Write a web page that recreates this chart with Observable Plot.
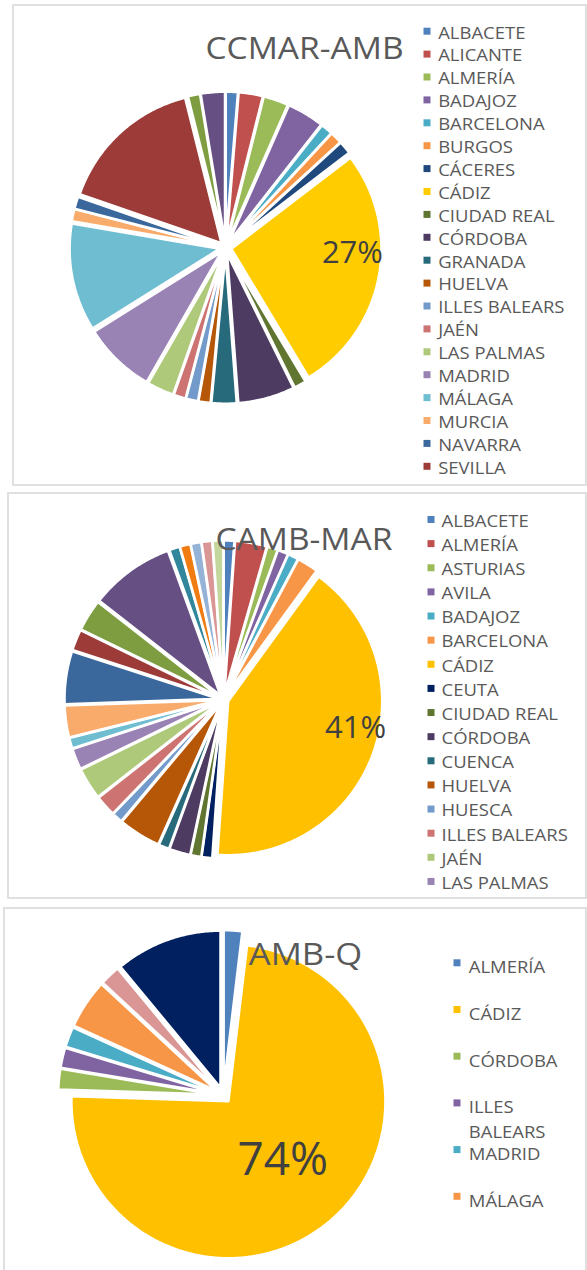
<!DOCTYPE html>
<html>
<head>
<meta charset="utf-8">
<script src="https://cdn.jsdelivr.net/npm/d3@7"></script>
<script src="https://cdn.jsdelivr.net/npm/@observablehq/plot@0.6"></script>
<style>
  html, body { margin: 0; padding: 0; background: #fff; overflow: hidden; }
  #page { position: relative; width: 587px; height: 1270px; overflow: hidden; background: #fff; }
  .box { position: absolute; box-sizing: border-box; border: 2px solid #E0E0E0; background: #fff; }
  .chart { position: absolute; }
  .chart svg { background: transparent !important; overflow: visible; }
</style>
</head>
<body>
<div id="page"></div>
<script>
// ---------------- DATA ----------------
const titles = ["CCMAR-AMB", "CAMB-MAR", "AMB-Q"];

// Chart 1: CCMAR-AMB (percent of total; last two slices are not shown in the legend)
const cats1 = ["ALBACETE","ALICANTE","ALMERÍA","BADAJOZ","BARCELONA","BURGOS","CÁCERES","CÁDIZ",
  "CIUDAD REAL","CÓRDOBA","GRANADA","HUELVA","ILLES BALEARS","JAÉN","LAS PALMAS","MADRID",
  "MÁLAGA","MURCIA","NAVARRA","SEVILLA","(serie 21)","(serie 22)"];
const vals1 = [1.3,2.6,2.7,4.0,1.3,1.3,1.4,26.8,1.3,6.1,2.7,1.3,1.3,1.3,2.9,7.8,11.6,1.3,1.3,15.8,1.3,2.6];
const legendCount1 = 20;
const labeled1 = ["CÁDIZ"];

// Chart 2: CAMB-MAR (counts; slices 17-27 are not shown in the legend)
const cats2 = ["ALBACETE","ALMERÍA","ASTURIAS","AVILA","BADAJOZ","BARCELONA","CÁDIZ","CEUTA",
  "CIUDAD REAL","CÓRDOBA","CUENCA","HUELVA","HUESCA","ILLES BALEARS","JAÉN","LAS PALMAS",
  "(serie 17)","(serie 18)","(serie 19)","(serie 20)","(serie 21)","(serie 22)","(serie 23)",
  "(serie 24)","(serie 25)","(serie 26)","(serie 27)"];
const vals2 = [1,3,1,1,1,2,37,1,1,2,1,4,1,2,3,2,1,3,5,2,3,8,1,1,1,1,1];
const legendCount2 = 16;
const labeled2 = ["CÁDIZ"];

// Chart 3: AMB-Q (percent; last two slices are not shown in the legend)
const cats3 = ["ALMERÍA","CÁDIZ","CÓRDOBA","ILLES BALEARS","MADRID","MÁLAGA","(serie 7)","(serie 8)"];
const vals3 = [1.9,73.6,2.1,2.1,2.1,5.1,2.1,11.0];
const legendCount3 = 6;
const labeled3 = ["CÁDIZ"];

// ---------------- STYLES ----------------
const colors1 = ["#4F81BD","#C0504D","#9BBB59","#8064A2","#4BACC6","#F79646","#1F497D","#FFCC00",
  "#5F7530","#4D3B62","#276A7C","#B65708","#729ACA","#CD7371","#AFC97A","#9983B5",
  "#6FBDD1","#F9AB6B","#3A679C","#9D3B39","#7E9D41","#654F83"];
const colors2 = ["#4F81BD","#C0504D","#9BBB59","#8064A2","#4BACC6","#F79646","#FFC000","#002060",
  "#5F7530","#4D3B62","#276A7C","#B65708","#729ACA","#CD7371","#AFC97A","#9983B5",
  "#6FBDD1","#F9AB6B","#3A679C","#9D3B39","#7E9D41","#654F83","#31869B",
  "#F07C12","#95B3D7","#D99694","#C3D69B"];
const colors3 = ["#4F81BD","#FFC000","#9BBB59","#8064A2","#4BACC6","#F79646","#D99694","#002060"];

const FONT = "'Open Sans', sans-serif";
const STRETCH = 1.1;

const configs = [
  { title: titles[0], cats: cats1, vals: vals1, colors: colors1, legendCount: legendCount1, labeled: labeled1,
    box: {x: 12, y: 4, w: 575, h: 482},
    cx: 225, cy: 247.2, R: 150, d: 6, stroke: 2.5,
    t: {x: 304, y: 36.7, size: 30.5},
    lg: {sx: 426.5, tx: 437.7, y0: 23.7, step: 22.9, size: 16.8, lh: 1.2},
    pct: {size: 31, off: -8.3, rf: 0.847} },
  { title: titles[1], cats: cats2, vals: vals2, colors: colors2, legendCount: legendCount2, labeled: labeled2,
    box: {x: 7, y: 492, w: 580, h: 407},
    cx: 223, cy: 699, R: 154, d: 5, stroke: 2.5,
    t: {x: 303.4, y: 528, size: 30.5},
    lg: {sx: 430.5, tx: 441, y0: 512, step: 24.13, size: 16.8, lh: 1.2},
    pct: {size: 31, off: -7.8, rf: 0.877} },
  { title: titles[2], cats: cats3, vals: vals3, colors: colors3, legendCount: legendCount3, labeled: labeled3,
    box: {x: 3, y: 907, w: 584, h: 400},
    cx: 222.7, cy: 1094.7, R: 157, d: 8, stroke: 2.5,
    t: {x: 305, y: 942.3, size: 31.5},
    lg: {sx: 456.5, tx: 468.3, y0: 955.3, step: 46.7, size: 16.8, lh: 1.46, lw: 6},
    pct: {size: 46, off: -2, rf: 0.56} }
];

function buildPie(c) {
  const arcs = d3.pie().sort(null).value(v => v)(c.vals);
  const rows = [];
  arcs.forEach((a, i) => {
    const m = (a.startAngle + a.endAngle) / 2;
    const tx = c.cx + c.d * Math.sin(m), ty = c.cy - c.d * Math.cos(m);
    rows.push({cat: c.cats[i], x: tx, y: ty});
    const n = Math.max(2, Math.ceil((a.endAngle - a.startAngle) / (Math.PI / 360)));
    for (let k = 0; k <= n; k++) {
      const t = a.startAngle + (a.endAngle - a.startAngle) * k / n;
      rows.push({cat: c.cats[i], x: tx + c.R * Math.sin(t), y: ty - c.R * Math.cos(t)});
    }
  });
  const total = d3.sum(c.vals);
  const labels = c.labeled.map(name => {
    const i = c.cats.indexOf(name);
    const a = arcs[i];
    const m = (a.startAngle + a.endAngle) / 2 + c.pct.off * Math.PI / 180;
    return {cat: name, text: Math.round(c.vals[i] / total * 100) + "%",
            x: c.cx + c.pct.rf * c.R * Math.sin(m), y: c.cy - c.pct.rf * c.R * Math.cos(m)};
  });
  const legendRows = c.cats.slice(0, c.legendCount).map((cat, i) => ({
    cat, yTop: c.lg.y0 + i * c.lg.step, ySw: c.lg.y0 + i * c.lg.step + 7
  }));
  return {rows, labels, legendRows};
}

const page = document.getElementById("page");

configs.forEach(c => {
  const box = document.createElement("div");
  box.className = "box";
  Object.assign(box.style, {left: c.box.x + "px", top: c.box.y + "px", width: c.box.w + "px", height: c.box.h + "px"});
  page.appendChild(box);

  const {rows, labels, legendRows} = buildPie(c);
  const W = c.box.w, H = c.box.h;
  const svg = Plot.plot({
    width: W, height: H,
    margin: 0,
    style: {background: "transparent", fontFamily: FONT, overflow: "visible"},
    x: {domain: [c.box.x, c.box.x + W], range: [0, W], axis: null},
    y: {domain: [c.box.y, c.box.y + H], range: [0, H], axis: null},
    color: {domain: c.cats, range: c.colors},
    marks: [
      Plot.line(rows, {x: "x", y: "y", z: "cat", fill: "cat", stroke: "white", strokeWidth: c.stroke,
        strokeLinejoin: "round", curve: "linear-closed"}),
      Plot.text(labels, {x: "x", y: "y", text: "text", fontSize: c.pct.size, fill: "#404040",
        fontFamily: FONT, lineAnchor: "middle", textAnchor: "middle"}),
      Plot.dot(legendRows, {x: () => c.lg.sx, y: "ySw", fill: "cat", symbol: "square", r: 3.95, stroke: "none"}),
      Plot.text(legendRows, {x: () => c.lg.tx, y: "yTop", text: "cat", textAnchor: "start", lineAnchor: "top",
        fontSize: c.lg.size, fill: "#595959", fontFamily: FONT, lineHeight: c.lg.lh,
        ...(c.lg.lw ? {lineWidth: c.lg.lw} : {})}),
      Plot.text([c.title], {x: () => c.t.x, y: () => c.t.y, text: d => d, textAnchor: "middle", lineAnchor: "top",
        fontSize: c.t.size, fill: "#595959", fontFamily: FONT})
    ]
  });
  // horizontal widening of the Calibri-like texts (titles and legend)
  svg.querySelectorAll("text").forEach(t => {
    if (/%$/.test(t.textContent.trim())) return;
    const tr = t.getAttribute("transform");
    if (tr) t.setAttribute("transform", tr + ` scale(${STRETCH},1)`);
    else {
      const x = +t.getAttribute("x") || 0;
      t.setAttribute("transform", `translate(${x},0) scale(${STRETCH},1) translate(${-x},0)`);
    }
  });
  const holder = document.createElement("div");
  holder.className = "chart";
  Object.assign(holder.style, {left: c.box.x + "px", top: c.box.y + "px", width: W + "px", height: H + "px"});
  holder.appendChild(svg);
  page.appendChild(holder);
});
</script>
</body>
</html>
